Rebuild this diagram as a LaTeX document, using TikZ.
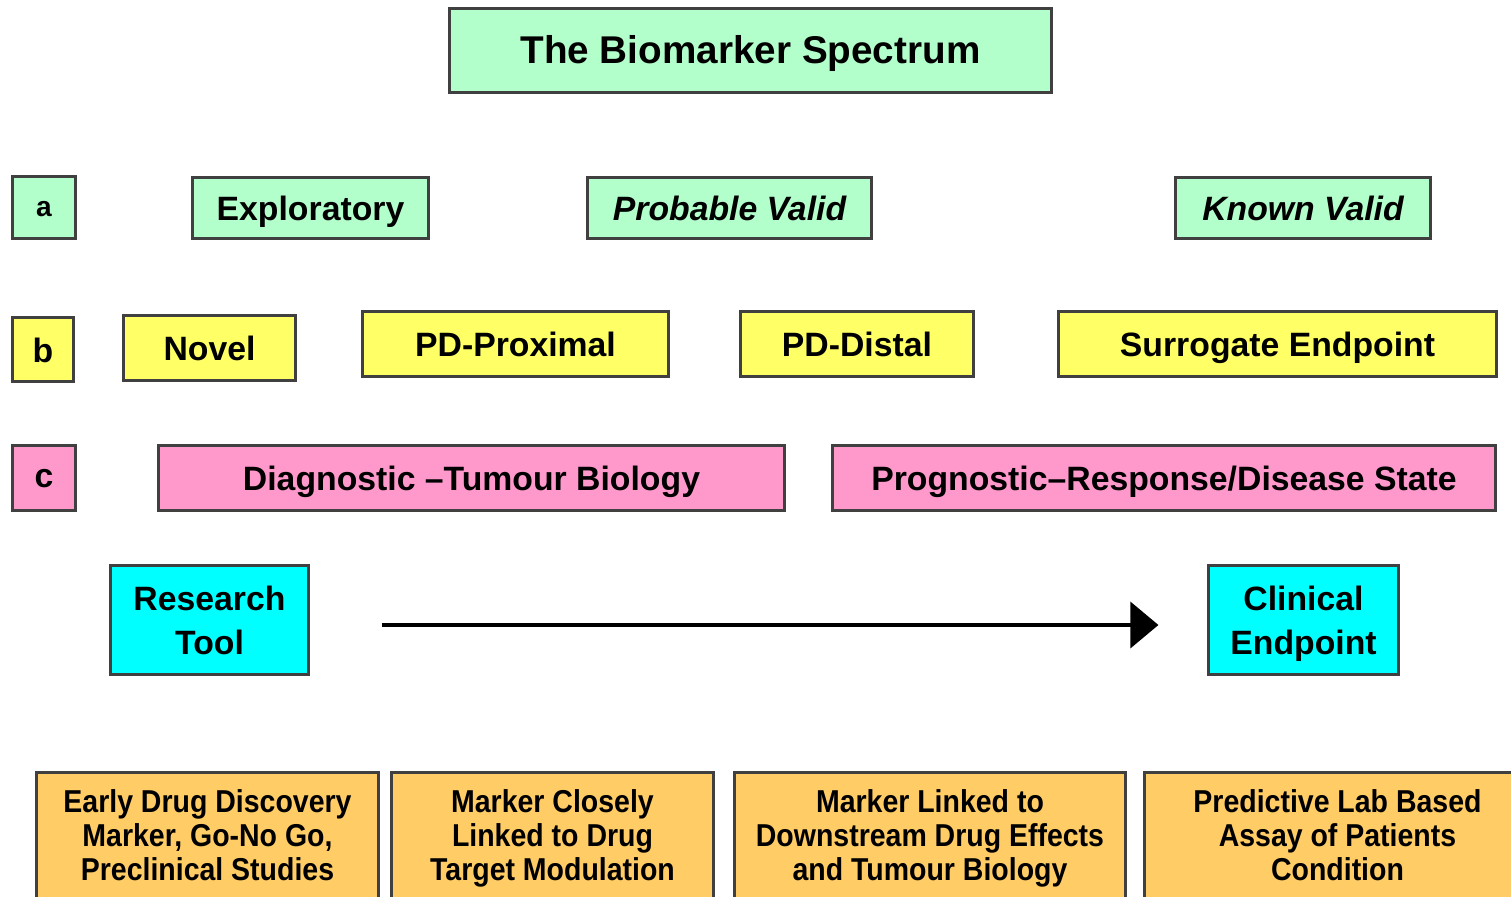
\documentclass[tikz,border=0pt]{standalone}
\usepackage{fontspec}
\setmainfont{Liberation Sans}
\newfontfamily\narrowsans[FakeStretch=0.9]{Liberation Sans}
\usetikzlibrary{arrows.meta}

\definecolor{mint}{HTML}{B3FFCC}
\definecolor{lemon}{HTML}{FFFF66}
\definecolor{rose}{HTML}{FF99CC}
\definecolor{aqua}{HTML}{00FFFF}
\definecolor{apricot}{HTML}{FFCC66}
\definecolor{rim}{HTML}{404040}

\begin{document}
\begin{tikzpicture}[x=0.01cm, y=-0.01cm,
    box/.style ={rectangle, draw=rim, line width=0.85pt, inner sep=0pt, align=center,
                 text height=0.72em, text depth=0pt,
                 font=\fontsize{9.6}{12.5}\selectfont\bfseries},
    twoline/.style ={text height=, text depth=0.22em},
    greenbox/.style ={box, fill=mint},
    yellowbox/.style ={box, fill=lemon},
    pinkbox/.style ={box, fill=rose},
    cyanbox/.style ={box, twoline, text depth=0pt, fill=aqua},
    orangebox/.style ={box, twoline, fill=apricot, font=\narrowsans\fontsize{9}{9.7}\selectfont\bfseries},
    arrowline/.style ={line width=1pt, -{Triangle[length=0.28cm, width=0.46cm]}}]
   \useasboundingbox (0,0) rectangle (1511,897);

   \node[greenbox, minimum width=6.01cm, minimum height=0.83cm, font=\fontsize{11}{13}\selectfont\bfseries] (title) at (750.5,50.5) {The Biomarker Spectrum};

   \node[greenbox, minimum width=0.62cm, minimum height=0.61cm, font=\fontsize{8}{10}\selectfont\bfseries, text height=1ex] (a) at (44,207.5) {a};
   \node[greenbox, minimum width=2.35cm, minimum height=0.60cm] (expl) at (310.5,208) {Exploratory};
   \node[greenbox, minimum width=2.83cm, minimum height=0.60cm, font=\fontsize{9.6}{12}\selectfont\bfseries\itshape] (probval) at (729.5,208) {Probable Valid};
   \node[greenbox, minimum width=2.54cm, minimum height=0.60cm, font=\fontsize{9.6}{12}\selectfont\bfseries\itshape] (knownval) at (1303,208) {Known Valid};

   \node[yellowbox, minimum width=0.60cm, minimum height=0.63cm] (b) at (43,349.5) {b};
   \node[yellowbox, minimum width=1.71cm, minimum height=0.64cm] (novel) at (209.5,348) {Novel};
   \node[yellowbox, minimum width=3.05cm, minimum height=0.64cm] (pdprox) at (515.5,344) {PD-Proximal};
   \node[yellowbox, minimum width=2.32cm, minimum height=0.64cm] (pddist) at (857,344) {PD-Distal};
   \node[yellowbox, minimum width=4.37cm, minimum height=0.64cm] (surrog) at (1277.5,344) {Surrogate Endpoint};

   \node[pinkbox, minimum width=0.62cm, minimum height=0.64cm, text height=1ex] (c) at (44,478) {c};
   \node[pinkbox, minimum width=6.25cm, minimum height=0.64cm] (diag) at (471.5,478) {Diagnostic –Tumour Biology};
   \node[pinkbox, minimum width=6.62cm, minimum height=0.64cm] (progn) at (1164,478) {Prognostic–Response/Disease State};

   \node[cyanbox, minimum width=1.97cm, minimum height=1.08cm] (restool) at (209.5,620) {Research\\Tool};
   \node[cyanbox, minimum width=1.89cm, minimum height=1.08cm] (clinend) at (1303.5,620) {Clinical\\Endpoint};

   \draw[arrowline, shorten <=0.72cm, shorten >=0.49cm] ([yshift=-0.05cm]restool.east) -- ([yshift=-0.05cm]clinend.west);

   \node[orangebox, minimum width=3.41cm, minimum height=1.32cm] (early) at (207.5,839) {Early Drug Discovery\\Marker, Go-No Go,\\Preclinical Studies};
   \node[orangebox, minimum width=3.21cm, minimum height=1.32cm] (closely) at (552.5,839) {Marker Closely\\Linked to Drug\\Target Modulation};
   \node[orangebox, minimum width=3.90cm, minimum height=1.32cm] (downstr) at (930,839) {Marker Linked to\\Downstream Drug Effects\\and Tumour Biology};
   \node[orangebox, minimum width=3.85cm, minimum height=1.32cm] (predict) at (1337.5,839) {Predictive Lab Based\\Assay of Patients\\Condition};

 \end{tikzpicture}
\end{document}
